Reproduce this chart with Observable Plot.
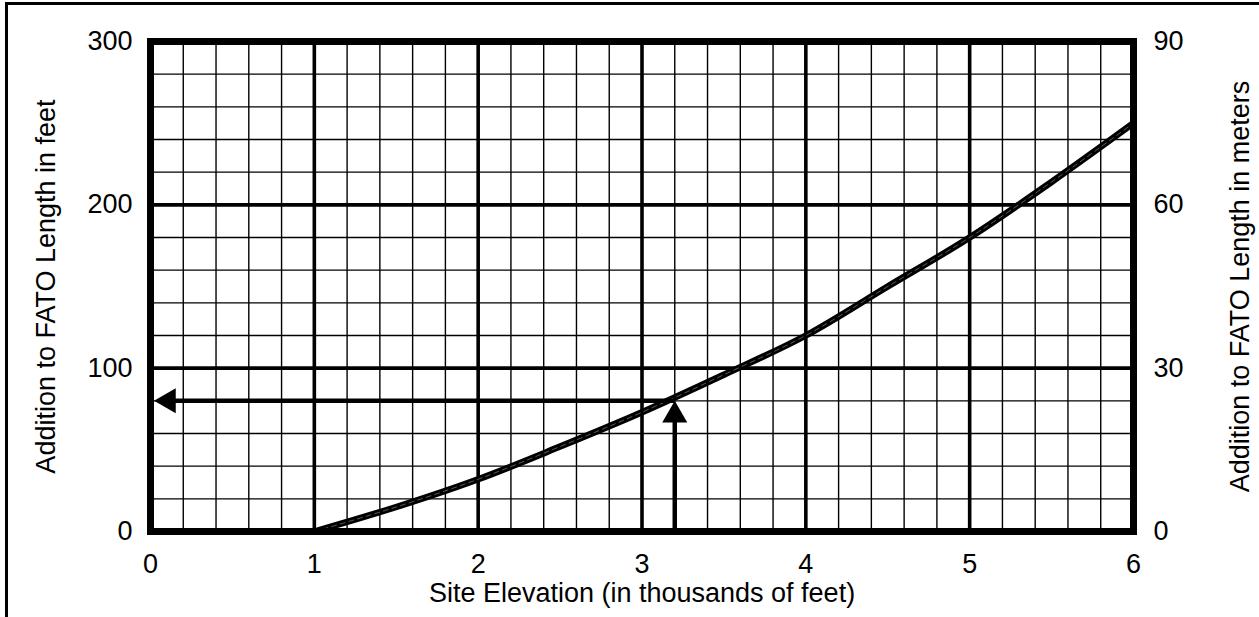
<!DOCTYPE html>
<html><head><meta charset="utf-8">
<script src="https://cdn.jsdelivr.net/npm/d3@7"></script>
<script src="https://cdn.jsdelivr.net/npm/@observablehq/plot@0.6"></script>
<style>
html,body{margin:0;padding:0;background:#fff;}
#wrap{position:relative;width:1259px;height:617px;overflow:hidden;background:#fff;}
#chart svg{display:block;}
#border{position:absolute;left:5px;top:2px;width:1300px;height:700px;border-top:3px solid #000;border-left:3px solid #000;pointer-events:none;}
</style></head><body>
<div id="wrap"><div id="chart"></div><div id="border"></div></div>
<script>
// Curve: site elevation (thousands of feet) -> addition to FATO length (feet)
const elevation = [1, 1.5, 2, 2.5, 3, 3.5, 4, 4.5, 5, 5.5, 6];
const additionFeet = [0, 15, 32, 52, 73, 96, 120, 150, 180, 214, 250];
// Worked example shown by the arrows
const exampleElevation = [3.2];
const exampleFeet = [80];
// Axes
const xTicks = [0, 1, 2, 3, 4, 5, 6];
const xTickLabels = ["0", "1", "2", "3", "4", "5", "6"];
const yTicksFeet = [0, 100, 200, 300];
const yTickLabelsFeet = ["0", "100", "200", "300"];
const yTickLabelsMeters = ["0", "30", "60", "90"];
const xLabel = "Site Elevation (in thousands of feet)";
const yLabelLeft = "Addition to FATO Length in feet";
const yLabelRight = "Addition to FATO Length in meters";

const xMinor = d3.range(0, 31).map(i => i / 5).filter(v => !xTicks.includes(v));
const yMinor = d3.range(0, 301, 20).filter(v => !yTicksFeet.includes(v));

const curveData = elevation.map((e, i) => ({e, f: additionFeet[i]}));
const hLine = exampleElevation.map((e, i) => ({x1: 0.12, x2: e, y: exampleFeet[i]}));
const vLine = exampleElevation.map((e, i) => ({x: e, y1: 0, y2: exampleFeet[i] - 6}));
const leftHead = exampleFeet.map(f => ({x: 0, y: f}));
const upHead = exampleElevation.map((e, i) => ({x: e, y: exampleFeet[i]}));

const chart = Plot.plot({
  width: 1259,
  height: 617,
  marginLeft: 150,
  marginRight: 126,
  marginTop: 41,
  marginBottom: 86,
  style: {fontFamily: "'Liberation Sans', Arial, sans-serif", fontSize: "27px", color: "#000", background: "#fff", overflow: "visible"},
  x: {domain: [0, 6]},
  y: {domain: [0, 300]},
  marks: [
    Plot.ruleX(xMinor, {stroke: "#000", strokeWidth: 1.4}),
    Plot.ruleY(yMinor, {stroke: "#000", strokeWidth: 1.4}),
    Plot.ruleX(xTicks, {stroke: "#000", strokeWidth: 3.6}),
    Plot.ruleY(yTicksFeet, {stroke: "#000", strokeWidth: 3.6}),
    Plot.line(curveData, {x: "e", y: "f", curve: "monotone-x", stroke: "#000", strokeWidth: 6.5}),
    Plot.line(curveData, {x: "e", y: "f", curve: "monotone-x", stroke: "#fff", strokeOpacity: 0.35, strokeWidth: 1, strokeDasharray: "5,4"}),
    Plot.link(hLine, {x1: "x1", x2: "x2", y1: "y", y2: "y", stroke: "#000", strokeWidth: 4.5}),
    Plot.link(vLine, {x1: "x", x2: "x", y1: "y1", y2: "y2", stroke: "#000", strokeWidth: 4.5}),
    Plot.dot(leftHead, {x: "x", y: "y", symbol: "triangle", r: 9.3, rotate: -90, fill: "#000", stroke: "none", dx: 18}),
    Plot.dot(upHead, {x: "x", y: "y", symbol: "triangle", r: 9.3, fill: "#000", stroke: "none", dy: 14.5}),
    Plot.frame({stroke: "#000", strokeWidth: 7}),
    Plot.axisX(xTicks, {tickSize: 0, tickPadding: 22, tickFormat: d => xTickLabels[xTicks.indexOf(d)], label: xLabel, labelAnchor: "center", labelArrow: false, labelOffset: 70}),
    Plot.axisY(yTicksFeet, {anchor: "left", tickSize: 0, tickPadding: 18, tickFormat: d => yTickLabelsFeet[yTicksFeet.indexOf(d)], label: yLabelLeft, labelAnchor: "center", labelArrow: false, labelOffset: 115}),
    Plot.axisY(yTicksFeet, {anchor: "right", tickSize: 0, tickPadding: 20, tickFormat: d => yTickLabelsMeters[yTicksFeet.indexOf(d)], label: yLabelRight, labelAnchor: "center", labelArrow: false, labelOffset: 115})
  ]
});
document.getElementById("chart").appendChild(chart);
</script>
</body></html>
